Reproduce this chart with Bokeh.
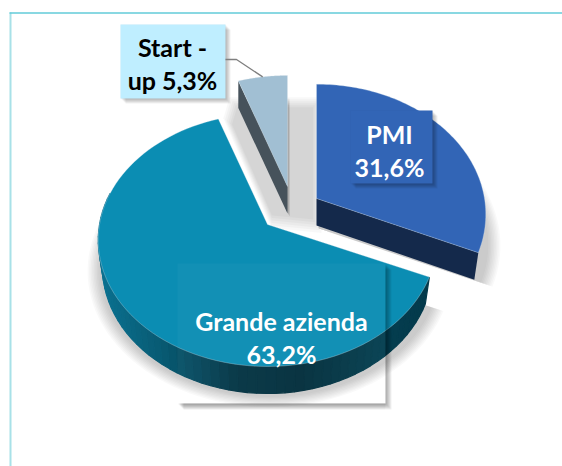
import numpy as np
from bokeh.embed import file_html
from bokeh.models import Range1d
from bokeh.plotting import figure
from bokeh.resources import INLINE
from bokeh.core.properties import value

# ---- chart data
categories = ["PMI", "Grande azienda", "Start -\nup"]
shares = [31.6, 63.2, 5.3]
share_labels = ["31,6%", "63,2%", "5,3%"]

# ---- styling
top_colors = ["#3265B6", "#0B8DB3", "#A1BFD3"]
side_colors = ["#14294B", "#043A4B", "#46525B"]
FONT = value("Lato")
W, H = 562, 466
OX, OY = 0, 0

# Page pixels are used as data units, so that the figure maps 1:1 on to the window.
p = figure(width=W, height=H, output_backend="svg", toolbar_location=None,
           x_range=Range1d(OX, OX + W), y_range=Range1d(OY + H, OY),
           min_border=0, outline_line_color=None)
p.axis.visible = False
p.grid.visible = False
p.background_fill_color = "white"
p.border_fill_color = "white"

# chart frame
p.line([10, 10], [12, 466], line_color="#A8E1E8", line_width=2)
p.line([9, 562], [12.5, 12.5], line_color="#62CBD8", line_width=1.3)

# ---- projection of a tilted disc
A, B, C = 168.0, 124.6, 0.1225
DEPTH = 27
INSET = 0.975  # the lower rim recedes slightly
apexes = [(316, 198), (267, 224), (287, 186)]
y_scale = [1.03, 1.0, 1.0]


def proj(theta, apex, dz=0, sx=1.0, sy=1.0):
    den = 1 + C * np.cos(theta)
    return apex[0] + sx * A * np.sin(theta) / den, apex[1] - sy * B * np.cos(theta) / den + dz


total = sum(shares)
bounds = np.radians(np.cumsum([0] + shares) / total * 360)
spans = [(bounds[i], bounds[i + 1]) for i in range(3)]


def sector(i, dz=0, grow=0.0, shift=(0, 0), clip_top=None):
    t = np.linspace(spans[i][0], spans[i][1], 90)
    x, y = proj(t, apexes[i], dz, sy=y_scale[i])
    x = np.r_[apexes[i][0], x]
    y = np.r_[apexes[i][1] + dz, y]
    mx, my = apexes[i][0], apexes[i][1] + dz
    x = mx + (x - mx) * (1 + grow) + shift[0]
    y = my + (y - my) * (1 + grow) + shift[1]
    if clip_top is not None:
        y = np.maximum(y, clip_top)
    return x, y


# ---- soft drop shadow of the whole pie, clipped by its chart area
for k in range(9):
    g = 0.075 - k * 0.009
    xs, ys = [], []
    for i in range(3):
        x, y = sector(i, dz=DEPTH, grow=g, shift=(2, 3), clip_top=98)
        xs.append(list(x))
        ys.append(list(y))
    p.patches(xs, ys, fill_color="#000000", fill_alpha=0.022, line_color=None)

# the shaded gap between the slices, softened by shrinking layers
gx, gy = proj(spans[1][1], apexes[1])
gap_x = np.array([gx + 12, apexes[0][0] + 4, apexes[0][0] + 4, apexes[1][0] + 4, gx + 6])
gap_y = np.array([98.0, 98.0, apexes[0][1] + DEPTH + 6, apexes[1][1] + 2, gy])
gmx, gmy = gap_x.mean(), gap_y.mean()
for k in range(6):
    s = 1.02 - k * 0.035
    p.patch(gmx + (gap_x - gmx) * s, np.maximum(gmy + (gap_y - gmy) * s, 96 + k),
            fill_color="#000000", fill_alpha=0.028, line_color=None)


def grad(stops, u):
    pos = [s[0] for s in stops]
    cols = np.array([s[1] for s in stops], dtype=float)
    return "#%02x%02x%02x" % tuple(int(round(np.interp(u, pos, cols[:, c]))) for c in range(3))


# ---- side walls
# Start-up: left cut face
ap = apexes[2]
lx, ly = proj(spans[2][0], ap)
p.patch([lx, ap[0], ap[0], lx], [ly, ap[1], ap[1] + DEPTH, ly + DEPTH],
        fill_color=side_colors[2], line_color=None)

# PMI: cut face and rim
ap = apexes[0]
ex, ey = proj(spans[0][1], ap, sy=y_scale[0])
ex2, ey2 = proj(spans[0][1], ap, DEPTH, INSET, y_scale[0])
p.patch([ap[0], ex, ex2, ap[0]], [ap[1], ey, ey2, ap[1] + DEPTH],
        fill_color=side_colors[0], line_color=None)

# Grande azienda: curved rim with a horizontal gradient
wall_stops = [(98, (11, 113, 144)), (160, (8, 90, 115)), (235, (4, 52, 68)),
              (300, (3, 46, 60)), (380, (4, 62, 80)), (430, (4, 58, 75))]
ap = apexes[1]
ts = np.linspace(spans[1][0], np.radians(285), 60)
for a, b in zip(ts[:-1], ts[1:]):
    x0, y0 = proj(a, ap)
    x1, y1 = proj(b, ap)
    x2, y2 = proj(b, ap, DEPTH, INSET)
    x3, y3 = proj(a, ap, DEPTH, INSET)
    col = grad(wall_stops, (x0 + x1) / 2)
    p.patch([x0, x1, x2, x3], [y0, y1, y2, y3], fill_color=col, line_color=col, line_width=1.2)

# ---- top faces
for i in range(3):
    x, y = sector(i)
    p.patch(x, y, fill_color=top_colors[i], line_color="#DDE7EE", line_width=0.5, line_alpha=0.6)


# ---- rectangles with a soft offset shadow
def soft_box(x0, y0, x1, y1, fill, strength=0.05, off=5):
    for k in range(6):
        d = off - k * 1.0
        p.quad(left=x0 + d, right=x1 + d, top=y0 + d, bottom=y1 + d,
               fill_color="#000000", fill_alpha=strength, line_color=None)
    p.quad(left=x0, right=x1, top=y0, bottom=y1, fill_color=fill, line_color=None)


# label box of the large slice: it lets the pie show through
for k in range(6):
    d = 6 - k
    p.quad(left=385, right=385 + d, top=263 + d, bottom=403 + d,
           fill_color="#000000", fill_alpha=0.06, line_color=None)
    p.quad(left=177 + d, right=385, top=403, bottom=403 + d,
           fill_color="#000000", fill_alpha=0.07, line_color=None)
p.quad(left=177, right=385, top=263, bottom=403, fill_color="#FFFFFF", fill_alpha=0.03, line_color=None)

soft_box(350, 110, 432, 183, top_colors[0], strength=0.06)
soft_box(120, 24, 225, 98, "#BFEEFF", strength=0.06)

# leader line, ending at the middle of the small slice's arc
lead_x, lead_y = proj((spans[2][0] + spans[2][1]) / 2, apexes[2])
p.line([225, 236, lead_x], [59, 59, lead_y], line_color="#7F7F7F", line_width=1.3)

# ---- labels
text_kw = dict(text_font=FONT, text_font_style="bold", text_font_size="25px",
               text_align="center", text_baseline="middle")
p.text([389], [133], text=[categories[0]], text_color="white", **text_kw)
p.text([389], [166], text=[share_labels[0]], text_color="white", **text_kw)
p.text([281], [320], text=[categories[1]], text_color="white", **text_kw)
p.text([281], [353], text=[share_labels[1]], text_color="white", **text_kw)
p.text([172], [46], text=[categories[2].split("\n")[0]], text_color="black", **text_kw)
p.text([172], [79], text=[categories[2].split("\n")[1] + " " + share_labels[2]], text_color="black", **text_kw)

open("out.html", "w").write(file_html(p, INLINE))
